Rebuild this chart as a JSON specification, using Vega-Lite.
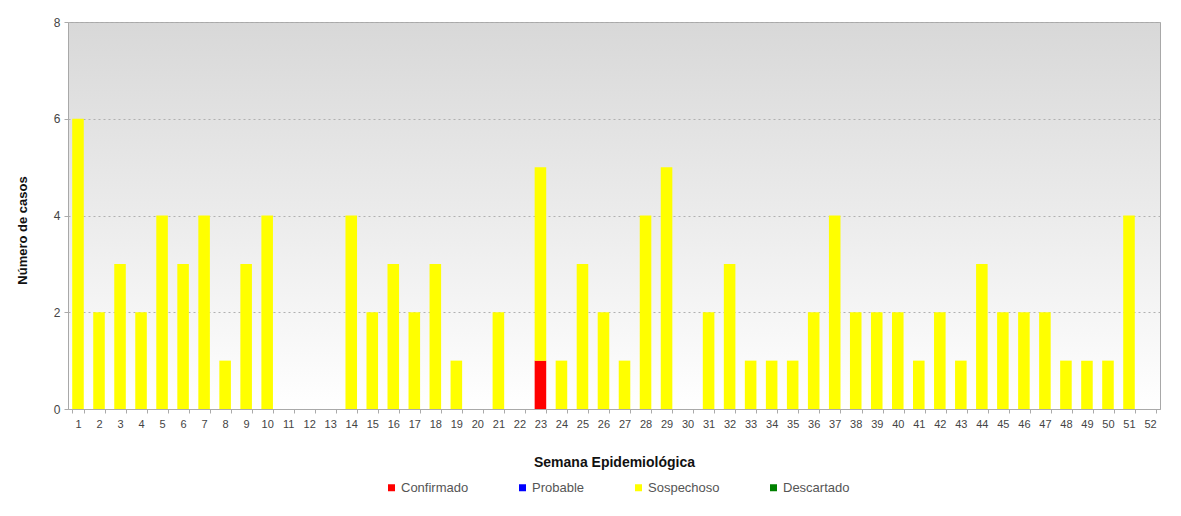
{
  "$schema": "https://vega.github.io/schema/vega-lite/v6.json",
  "width": 1092,
  "height": 387,
  "autosize": "none",
  "padding": {"left": 68, "top": 22, "right": 21, "bottom": 107},
  "background": "white",
  "config": {
    "font": "Liberation Sans",
    "view": {
      "fill": {"gradient": "linear", "x1": 0, "y1": 0, "x2": 0, "y2": 1,
        "stops": [{"offset": 0, "color": "#d8d8d8"}, {"offset": 1, "color": "#ffffff"}]},
      "stroke": "#a8a8a8",
      "strokeWidth": 1
    }
  },
  "data": {
    "values": [
      {"semana": 1, "tipo": "Sospechoso", "casos": 6, "ord": 2},
      {"semana": 2, "tipo": "Sospechoso", "casos": 2, "ord": 2},
      {"semana": 3, "tipo": "Sospechoso", "casos": 3, "ord": 2},
      {"semana": 4, "tipo": "Sospechoso", "casos": 2, "ord": 2},
      {"semana": 5, "tipo": "Sospechoso", "casos": 4, "ord": 2},
      {"semana": 6, "tipo": "Sospechoso", "casos": 3, "ord": 2},
      {"semana": 7, "tipo": "Sospechoso", "casos": 4, "ord": 2},
      {"semana": 8, "tipo": "Sospechoso", "casos": 1, "ord": 2},
      {"semana": 9, "tipo": "Sospechoso", "casos": 3, "ord": 2},
      {"semana": 10, "tipo": "Sospechoso", "casos": 4, "ord": 2},
      {"semana": 11, "tipo": "Sospechoso", "casos": 0, "ord": 2},
      {"semana": 12, "tipo": "Sospechoso", "casos": 0, "ord": 2},
      {"semana": 13, "tipo": "Sospechoso", "casos": 0, "ord": 2},
      {"semana": 14, "tipo": "Sospechoso", "casos": 4, "ord": 2},
      {"semana": 15, "tipo": "Sospechoso", "casos": 2, "ord": 2},
      {"semana": 16, "tipo": "Sospechoso", "casos": 3, "ord": 2},
      {"semana": 17, "tipo": "Sospechoso", "casos": 2, "ord": 2},
      {"semana": 18, "tipo": "Sospechoso", "casos": 3, "ord": 2},
      {"semana": 19, "tipo": "Sospechoso", "casos": 1, "ord": 2},
      {"semana": 20, "tipo": "Sospechoso", "casos": 0, "ord": 2},
      {"semana": 21, "tipo": "Sospechoso", "casos": 2, "ord": 2},
      {"semana": 22, "tipo": "Sospechoso", "casos": 0, "ord": 2},
      {"semana": 23, "tipo": "Confirmado", "casos": 1, "ord": 1},
      {"semana": 23, "tipo": "Sospechoso", "casos": 4, "ord": 2},
      {"semana": 24, "tipo": "Sospechoso", "casos": 1, "ord": 2},
      {"semana": 25, "tipo": "Sospechoso", "casos": 3, "ord": 2},
      {"semana": 26, "tipo": "Sospechoso", "casos": 2, "ord": 2},
      {"semana": 27, "tipo": "Sospechoso", "casos": 1, "ord": 2},
      {"semana": 28, "tipo": "Sospechoso", "casos": 4, "ord": 2},
      {"semana": 29, "tipo": "Sospechoso", "casos": 5, "ord": 2},
      {"semana": 30, "tipo": "Sospechoso", "casos": 0, "ord": 2},
      {"semana": 31, "tipo": "Sospechoso", "casos": 2, "ord": 2},
      {"semana": 32, "tipo": "Sospechoso", "casos": 3, "ord": 2},
      {"semana": 33, "tipo": "Sospechoso", "casos": 1, "ord": 2},
      {"semana": 34, "tipo": "Sospechoso", "casos": 1, "ord": 2},
      {"semana": 35, "tipo": "Sospechoso", "casos": 1, "ord": 2},
      {"semana": 36, "tipo": "Sospechoso", "casos": 2, "ord": 2},
      {"semana": 37, "tipo": "Sospechoso", "casos": 4, "ord": 2},
      {"semana": 38, "tipo": "Sospechoso", "casos": 2, "ord": 2},
      {"semana": 39, "tipo": "Sospechoso", "casos": 2, "ord": 2},
      {"semana": 40, "tipo": "Sospechoso", "casos": 2, "ord": 2},
      {"semana": 41, "tipo": "Sospechoso", "casos": 1, "ord": 2},
      {"semana": 42, "tipo": "Sospechoso", "casos": 2, "ord": 2},
      {"semana": 43, "tipo": "Sospechoso", "casos": 1, "ord": 2},
      {"semana": 44, "tipo": "Sospechoso", "casos": 3, "ord": 2},
      {"semana": 45, "tipo": "Sospechoso", "casos": 2, "ord": 2},
      {"semana": 46, "tipo": "Sospechoso", "casos": 2, "ord": 2},
      {"semana": 47, "tipo": "Sospechoso", "casos": 2, "ord": 2},
      {"semana": 48, "tipo": "Sospechoso", "casos": 1, "ord": 2},
      {"semana": 49, "tipo": "Sospechoso", "casos": 1, "ord": 2},
      {"semana": 50, "tipo": "Sospechoso", "casos": 1, "ord": 2},
      {"semana": 51, "tipo": "Sospechoso", "casos": 4, "ord": 2},
      {"semana": 52, "tipo": "Sospechoso", "casos": 0, "ord": 2}
    ]
  },
  "mark": {"type": "bar"},
  "encoding": {
    "x": {
      "field": "semana",
      "type": "ordinal",
      "scale": {"paddingInner": 0.45, "paddingOuter": 0.2},
      "axis": {
        "title": "Semana Epidemiológica",
        "titleFontSize": 14,
        "titleFontWeight": "bold",
        "titleColor": "#111111",
        "titlePadding": 26,
        "labelAngle": 0,
        "labelFontSize": 11,
        "labelColor": "#444444",
        "labelPadding": 5,
        "tickBand": "extent",
        "tickColor": "#aaaaaa",
        "tickSize": 4,
        "domainColor": "#aaaaaa"
      }
    },
    "y": {
      "field": "casos",
      "type": "quantitative",
      "stack": "zero",
      "scale": {"domain": [0, 8]},
      "axis": {
        "values": [0, 2, 4, 6, 8],
        "title": "Número de casos",
        "titleFontSize": 13,
        "titleFontWeight": "bold",
        "titleColor": "#111111",
        "titlePadding": 24,
        "titleY": 208,
        "labelFontSize": 12,
        "labelColor": "#444444",
        "labelPadding": 4,
        "tickColor": "#aaaaaa",
        "tickSize": 4,
        "domain": false,
        "grid": true,
        "gridColor": "#b0b0b0",
        "gridDash": [2, 3]
      }
    },
    "color": {
      "field": "tipo",
      "type": "nominal",
      "scale": {
        "domain": ["Confirmado", "Probable", "Sospechoso", "Descartado"],
        "range": ["#ff0000", "#0000ff", "#ffff00", "#008000"]
      },
      "legend": {
        "orient": "none",
        "legendX": 317,
        "legendY": 459,
        "direction": "horizontal",
        "columns": 4,
        "columnPadding": 47,
        "title": null,
        "symbolType": "square",
        "symbolSize": 49,
        "symbolStrokeWidth": 0,
        "labelFontSize": 13,
        "labelColor": "#555555",
        "labelOffset": 3
      }
    },
    "order": {"field": "ord", "type": "quantitative"}
  }
}
